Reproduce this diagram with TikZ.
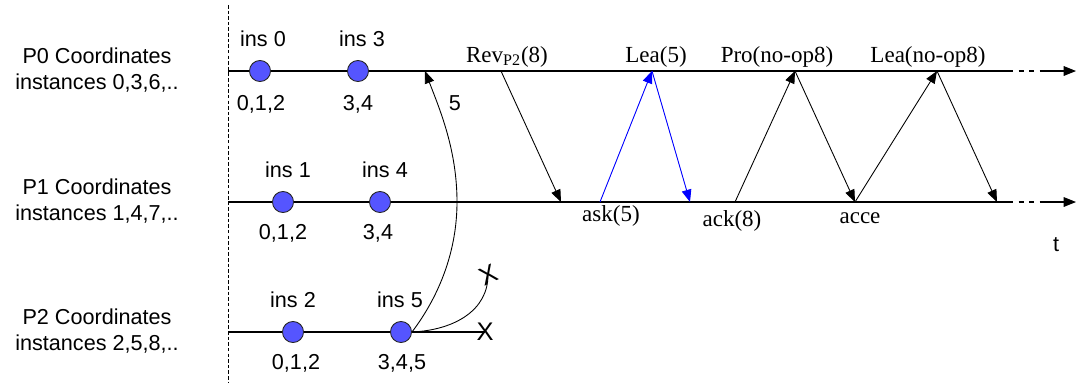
\documentclass[tikz,border=0pt]{standalone}
\usepackage{fontspec}
\setmainfont{Liberation Sans}
\newfontfamily\tnr{Liberation Serif}
\usetikzlibrary{arrows.meta,positioning}
\definecolor{insblue}{RGB}{85,85,255}
\definecolor{msgblue}{RGB}{0,0,255}

\begin{document}
\begin{tikzpicture}[x=0.02cm, y=-0.02cm,
  every node/.style={inner sep=0pt},
  sanslbl/.style={font=\fontsize{12.3}{14.8}\selectfont, align=center},
  seriflbl/.style={font=\tnr\fontsize{13.1}{15}\selectfont, anchor=base},
  xmark/.style={font=\fontsize{14.5}{15}\selectfont},
  inst/.style={circle, draw=black!85, fill=insblue, line width=0.5pt, minimum size=12pt},
  timeline/.style={line width=0.6pt},
  msg/.style={line width=0.5pt, -{Triangle[length=7pt,width=5.5pt]}},
  bluemsg/.style={msg, draw=msgblue, fill=msgblue}]

\useasboundingbox (0,0) rectangle (1076,383);

% ── Process levels ───────────────────────────────────────────────────────────
\pgfmathsetmacro{\yA}{71}    % P0
\pgfmathsetmacro{\yB}{202}   % P1
\pgfmathsetmacro{\yC}{332}   % P2
\pgfmathsetmacro{\xs}{228}   % start of the time lines

% Separator
\coordinate (septop) at (\xs,5);
\coordinate (sepbot) at (\xs,383);
\draw[line width=0.5pt, dash pattern=on 2pt off 1.2pt] (septop) -- (sepbot);

% ── Process names ────────────────────────────────────────────────────────────
\node[sanslbl] (nameP0) at (97,70)  {P0 Coordinates\\instances 0,3,6,..};
\node[sanslbl] (nameP1) at (97,201) {P1 Coordinates\\instances 1,4,7,..};
\node[sanslbl] (nameP2) at (97,331) {P2 Coordinates\\instances 2,5,8,..};

% ── Time lines ───────────────────────────────────────────────────────────────
\foreach \p/\y in {P0/\yA, P1/\yB}{
  \coordinate (\p s)  at (\xs,\y);
  \coordinate (\p d1) at (1008,\y);
  \coordinate (\p d2) at (1044,\y);
  \coordinate (\p e)  at (1076,\y);
  \draw[timeline] (\p s) -- (\p d1);
  \draw[timeline, dashed] (\p d1) -- (\p d2);
  \draw[timeline, -{Triangle[length=7pt,width=5.5pt]}] (\p d2) -- (\p e);
}
\coordinate (P2s) at (\xs,\yC);
\node[xmark] (xlow) at (485,\yC) {X};
\draw[timeline] (P2s) -- (xlow.center);

\node[sanslbl] (tlbl) at (1056,245) {t};

% ── Instances ────────────────────────────────────────────────────────────────
\node[inst] (c0) at (260,\yA) {};
\node[inst] (c3) at (358,\yA) {};
\node[inst] (c1) at (283,\yB) {};
\node[inst] (c4) at (380,\yB) {};
\node[inst] (c2) at (293,\yC) {};
\node[inst] (c5) at (401,\yC) {};

\node[sanslbl] (ins0) at (263,39)  {ins 0};
\node[sanslbl] (ins3) at (362,39)  {ins 3};
\node[sanslbl] (ins1) at (288,170) {ins 1};
\node[sanslbl] (ins4) at (385,170) {ins 4};
\node[sanslbl] (ins2) at (293,300) {ins 2};
\node[sanslbl] (ins5) at (400,300) {ins 5};

\node[sanslbl] (st0) at (261,104) {0,1,2};
\node[sanslbl] (st3) at (358,104) {3,4};
\node[sanslbl] (st1) at (283,233) {0,1,2};
\node[sanslbl] (st4) at (378,233) {3,4};
\node[sanslbl] (st2) at (296,363) {0,1,2};
\node[sanslbl] (st5) at (402,363) {3,4,5};

% ── Instance 5 from P2 ───────────────────────────────────────────────────────
\coordinate (ret) at (425,\yA);
\draw[msg] (c5.east) .. controls (440,295) and (457,250) .. (457,202)
                     .. controls (457,150) and (440,110) .. (ret);
\node[sanslbl] (five) at (455,103) {5};

\node[xmark, rotate=25] (xup) at (488,275) {X};
\draw[line width=0.5pt] (c5.east) .. controls (455,330) and (488,310) .. (xup.center);

% ── Messages between P0 and P1 ───────────────────────────────────────────────
\coordinate (rev)  at (501,\yA);
\coordinate (askin) at (561,\yB);
\coordinate (ask)  at (600,\yB);
\coordinate (lea)  at (652,\yA);
\coordinate (leain) at (690,\yB);
\coordinate (ack)  at (735,\yB);
\coordinate (pro)  at (795,\yA);
\coordinate (acc)  at (855,\yB);
\coordinate (lea2) at (937,\yA);
\coordinate (end)  at (997,\yB);

\draw[msg] (rev) -- (askin);
\draw[bluemsg] (ask) -- (lea);
\draw[bluemsg] (lea) -- (leain);
\draw[msg] (ack) -- (pro);
\draw[msg] (pro) -- (acc);
\draw[msg] (acc) -- (lea2);
\draw[msg] (lea2) -- (end);

\node[seriflbl] (revlbl)  at (507,62) {Rev\textsubscript{P2}(8)};
\node[seriflbl] (lealbl)  at (656,62) {Lea(5)};
\node[seriflbl] (prolbl)  at (777,62) {Pro(no-op8)};
\node[seriflbl] (lea2lbl) at (928,62) {Lea(no-op8)};
\node[seriflbl] (asklbl)  at (611,221) {ask(5)};
\node[seriflbl] (acklbl)  at (732,226) {ack(8)};
\node[seriflbl] (acclbl)  at (860,223) {acce};

\end{tikzpicture}
\end{document}
